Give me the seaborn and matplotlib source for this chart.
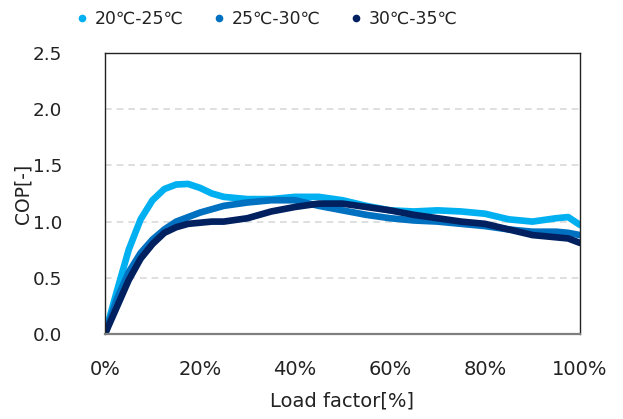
import matplotlib
matplotlib.use("Agg")
import matplotlib.pyplot as plt
from matplotlib.lines import Line2D
import seaborn as sns
import pandas as pd

load = [0, 2.5, 5, 7.5, 10, 12.5, 15, 17.5, 20, 22.5, 25, 30, 35, 40, 45, 50,
        55, 60, 65, 70, 75, 80, 85, 90, 95, 97.5, 100]
cop_20_25 = [0.00, 0.38, 0.75, 1.02, 1.19, 1.29, 1.33, 1.335, 1.30, 1.25, 1.22,
             1.20, 1.20, 1.22, 1.22, 1.19, 1.14, 1.10, 1.09, 1.10, 1.09, 1.07,
             1.02, 1.00, 1.03, 1.04, 0.97]
cop_25_30 = [0.00, 0.31, 0.55, 0.72, 0.84, 0.93, 1.00, 1.04, 1.08, 1.11, 1.14,
             1.17, 1.19, 1.19, 1.14, 1.10, 1.06, 1.03, 1.01, 1.00, 0.98, 0.96,
             0.93, 0.91, 0.91, 0.90, 0.88]
cop_30_35 = [0.00, 0.24, 0.48, 0.67, 0.80, 0.90, 0.95, 0.98, 0.99, 1.00, 1.00,
             1.03, 1.09, 1.13, 1.16, 1.16, 1.13, 1.10, 1.06, 1.03, 1.00, 0.98,
             0.93, 0.88, 0.86, 0.85, 0.81]
series_names = ["20℃-25℃", "25℃-30℃", "30℃-35℃"]
colors = ["#00B0F0", "#0070C0", "#002060"]
yticks = [0.0, 0.5, 1.0, 1.5, 2.0, 2.5]
xticks = [0, 20, 40, 60, 80, 100]

rows = []
for name, vals in zip(series_names, [cop_20_25, cop_25_30, cop_30_35]):
    for x, y in zip(load, vals):
        rows.append({"load": x, "cop": y, "series": name})
df = pd.DataFrame(rows)

sns.set_theme(style="white")
plt.rcParams["font.family"] = ["DejaVu Sans", "Noto Sans CJK JP"]

fig = plt.figure(figsize=(6.23, 4.19), dpi=100)
ax = fig.add_axes([0.1685, 0.2029, 0.931 - 0.1685, 0.8735 - 0.2029])

sns.lineplot(data=df, x="load", y="cop", hue="series", hue_order=series_names,
             palette=colors, linewidth=4.8, ax=ax, legend=False,
             solid_capstyle="round", solid_joinstyle="round")

ax.set_xlim(0, 100)
ax.set_ylim(0, 2.5)
ax.set_yticks(yticks)
ax.set_yticklabels([f"{v:.1f}" for v in yticks])
ax.set_xticks(xticks)
ax.set_xticklabels([f"{v}%" for v in xticks])
ax.tick_params(axis="x", labelsize=14, length=0, colors="#222222", pad=19)
ax.tick_params(axis="y", labelsize=13.2, length=0, colors="#222222", pad=31)
for v in yticks[1:-1]:
    ax.axhline(v, color="#d9d9d9", lw=1.2, ls=(0, (4, 3)), zorder=0)

for s in ["left", "right", "top"]:
    ax.spines[s].set_color("#222222")
    ax.spines[s].set_linewidth(1.0)
ax.spines["bottom"].set_color("#7f7f7f")
ax.spines["bottom"].set_linewidth(1.6)

ax.set_xlabel("Load factor[%]", fontsize=14, color="#222222")
ax.xaxis.set_label_coords(0.5, -0.205)
ax.set_ylabel("COP[-]", fontsize=13.5, color="#222222")
ax.yaxis.set_label_coords(-0.152, 0.5)

handles = [Line2D([], [], marker="o", ls="none", color=c, markersize=4.5)
           for c in colors]
fig.legend(handles, series_names, loc="center", bbox_to_anchor=(0.426, 0.955),
           ncol=3, frameon=False, fontsize=12.4, handletextpad=0.25,
           columnspacing=1.55, handlelength=1.0, labelcolor="#222222")

fig.savefig("out.png", dpi=100)
